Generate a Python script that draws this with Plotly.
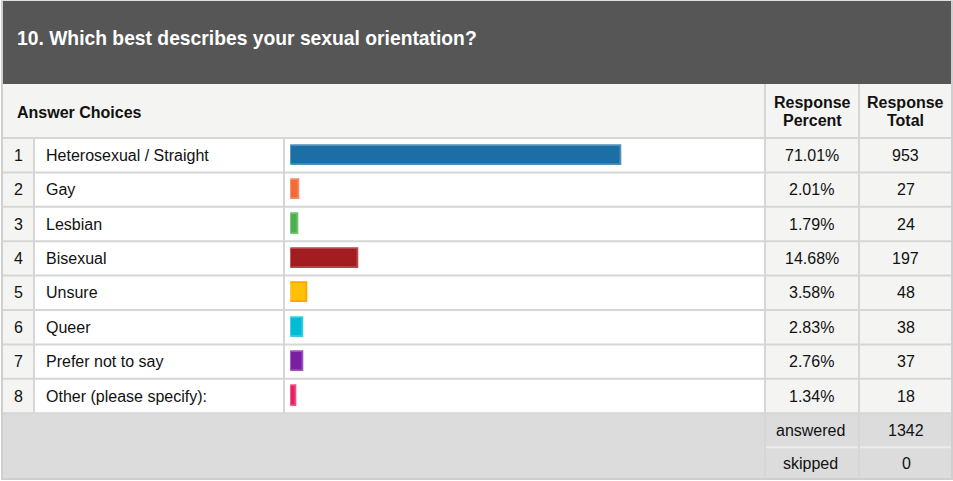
import plotly.graph_objects as go

# Survey question and answers
question = "10. Which best describes your sexual orientation?"
choices = [
    "Heterosexual / Straight",
    "Gay",
    "Lesbian",
    "Bisexual",
    "Unsure",
    "Queer",
    "Prefer not to say",
    "Other (please specify):",
]
percents = [71.01, 2.01, 1.79, 14.68, 3.58, 2.83, 2.76, 1.34]
totals = [953, 27, 24, 197, 48, 38, 37, 18]
answered = 1342
skipped = 0

bar_colors = ["#1c6fa5", "#f26b36", "#4caf50", "#a31c20",
              "#ffc107", "#00bcd4", "#7b1fa2", "#e91e63"]
bar_edges = ["#4f8fba", "#f48b63", "#72bf75", "#b5494c",
             "#ffa400", "#3ccbdd", "#9a52b8", "#ee4f84"]

W, H = 953, 481
FONT = "Liberation Sans, Arial, sans-serif"

# Table geometry in page pixels
X_LEFT, X_IDX, X_LBL, X_PCT, X_TOT, X_RIGHT = 3, 34, 284, 765, 859, 951
Y_TITLE_END, Y_HEAD_END = 84, 138
ROW_H = 34.4
Y_ROWS_END = Y_HEAD_END + ROW_H * len(choices)
Y_ANS_END = Y_ROWS_END + 34
Y_BOTTOM = 478

# Bar column scale: 0% and 100% positions
BAR_X0, BAR_X100 = 290.3, 756.3


def px(x):
    return x / W


def py(y):
    return 1 - y / H


fig = go.Figure()

# Horizontal bars on their own axes, placed over the bar column
fig.add_trace(go.Bar(
    x=percents,
    y=list(range(len(choices))),
    orientation="h",
    marker=dict(color=bar_colors, line=dict(color=bar_edges, width=1.8)),
    width=0.56,
    hoverinfo="skip",
))

shapes = []


def rect(x0, y0, x1, y1, fill):
    shapes.append(dict(type="rect", xref="paper", yref="paper",
                       x0=px(x0), y0=py(y0), x1=px(x1), y1=py(y1),
                       fillcolor=fill, line=dict(width=0), layer="below"))


def line(x0, y0, x1, y1, color="#d6d6d6", width=2):
    shapes.append(dict(type="line", xref="paper", yref="paper",
                       x0=px(x0), y0=py(y0), x1=px(x1), y1=py(y1),
                       line=dict(color=color, width=width), layer="below"))


# Title band
rect(X_LEFT, 1, X_RIGHT, Y_TITLE_END, "#555655")
# Header row
rect(X_LEFT, Y_TITLE_END, X_RIGHT, Y_HEAD_END, "#f4f4f2")
# Body rows
rect(X_LEFT, Y_HEAD_END, X_IDX, Y_ROWS_END, "#f4f4f2")
rect(X_IDX, Y_HEAD_END, X_PCT, Y_ROWS_END, "#ffffff")
rect(X_PCT, Y_HEAD_END, X_RIGHT, Y_ROWS_END, "#f4f4f2")
# Summary block
rect(X_LEFT, Y_ROWS_END, X_RIGHT, Y_BOTTOM, "#dcdcdc")

# Grid lines
line(X_LEFT, Y_HEAD_END, X_RIGHT, Y_HEAD_END)
for i in range(1, len(choices) + 1):
    y = Y_HEAD_END + ROW_H * i
    line(X_LEFT, y, X_RIGHT, y)
line(X_PCT, Y_ANS_END, X_RIGHT, Y_ANS_END, color="#ececec")
for x in (X_IDX, X_LBL):
    line(x, Y_HEAD_END, x, Y_ROWS_END)
for x in (X_PCT, X_TOT):
    line(x, Y_TITLE_END, x, Y_BOTTOM, color="#d6d6d6")
# Outer frame
line(X_LEFT - 1, 0, X_LEFT - 1, Y_BOTTOM + 1, color="#cfcfcf")
line(X_RIGHT + 1, 0, X_RIGHT + 1, Y_BOTTOM + 1, color="#cfcfcf")
line(X_LEFT - 2, Y_BOTTOM + 1, X_RIGHT + 2, Y_BOTTOM + 1, color="#cfcfcf")
line(X_LEFT - 2, 0.5, X_RIGHT + 2, 0.5, color="#dedede", width=1)

annotations = []


def text(x, y, s, size=16, bold=False, color="#111111", anchor="center"):
    if bold:
        s = "<b>" + s + "</b>"
    annotations.append(dict(xref="paper", yref="paper", x=px(x), y=py(y), text=s,
                            showarrow=False, xanchor=anchor, yanchor="middle",
                            font=dict(family=FONT, size=size, color=color)))


text(14.5, 38.5, question, size=19.3, bold=True, color="#ffffff", anchor="left")
text(15, 112, "Answer Choices", bold=True, anchor="left")
text(812, 102, "Response", bold=True)
text(812, 121, "Percent", bold=True)
text(905, 102, "Response", bold=True)
text(905, 121, "Total", bold=True)

for i, (c, p, t) in enumerate(zip(choices, percents, totals)):
    yc = Y_HEAD_END + ROW_H * (i + 0.5)
    text(18.5, yc, str(i + 1))
    text(43.5, yc, c, anchor="left")
    text(811.5, yc, f"{p:.2f}%")
    text(905.5, yc, str(t))

text(810.5, Y_ROWS_END + 17.5, "answered")
text(906, Y_ROWS_END + 17.5, str(answered))
text(810.5, Y_ANS_END + 16, "skipped")
text(906, Y_ANS_END + 16, str(skipped))

fig.update_layout(
    width=W, height=H,
    margin=dict(l=0, r=0, t=0, b=0),
    paper_bgcolor="#ffffff",
    plot_bgcolor="rgba(0,0,0,0)",
    showlegend=False,
    bargap=0,
    shapes=shapes,
    annotations=annotations,
    xaxis=dict(
        domain=[px(BAR_X0), px(BAR_X100)],
        range=[0, 100], visible=False, fixedrange=True,
    ),
    yaxis=dict(
        domain=[py(Y_ROWS_END), py(Y_HEAD_END)],
        range=[len(choices) - 0.5, -0.5], visible=False, fixedrange=True,
    ),
)

fig.write_html("out.html", config={"displayModeBar": False})
